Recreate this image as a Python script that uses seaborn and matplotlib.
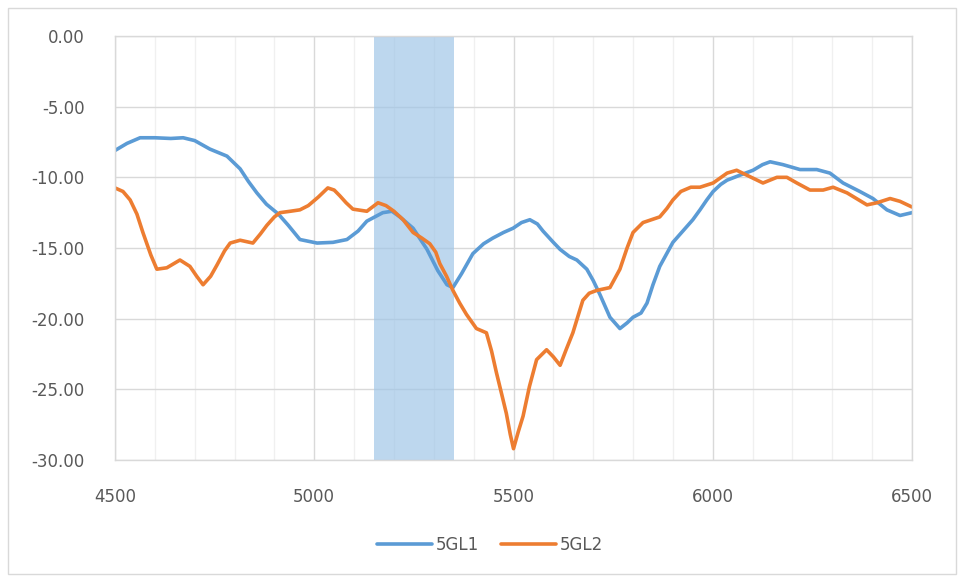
import numpy as np
import pandas as pd
import seaborn as sns
import matplotlib.pyplot as plt
from matplotlib.patches import Rectangle
from matplotlib.lines import Line2D
from matplotlib.ticker import MultipleLocator, FormatStrFormatter

# 5GL1 (blue)
freq1 = [4500, 4530, 4563, 4600, 4640, 4671, 4700, 4738, 4781, 4814, 4835, 4856, 4880, 4910,
         4935, 4964, 5007, 5047, 5082, 5110, 5132, 5172, 5195, 5215, 5248, 5283, 5310, 5333,
         5348, 5370, 5398, 5425, 5448, 5475, 5499, 5520, 5541, 5560, 5574, 5600, 5617, 5640,
         5659, 5684, 5700, 5717, 5742, 5767, 5785, 5800, 5820, 5835, 5850, 5867, 5900, 5925,
         5950, 5968, 5985, 6001, 6020, 6036, 6068, 6101, 6125, 6144, 6176, 6219, 6261, 6294,
         6327, 6369, 6402, 6437, 6470, 6500]
gl1 = [-8.1, -7.6, -7.2, -7.2, -7.25, -7.2, -7.4, -8.0, -8.5, -9.4, -10.3, -11.1, -11.9, -12.6,
       -13.4, -14.4, -14.65, -14.6, -14.4, -13.8, -13.1, -12.5, -12.4, -12.8, -13.6, -15.1, -16.6, -17.6,
       -17.8, -16.8, -15.4, -14.7, -14.3, -13.9, -13.6, -13.2, -13.0, -13.3, -13.8, -14.6, -15.1, -15.6,
       -15.85, -16.5, -17.3, -18.3, -19.9, -20.7, -20.3, -19.9, -19.6, -18.9, -17.6, -16.3, -14.6, -13.8,
       -13.0, -12.3, -11.6, -11.0, -10.5, -10.2, -9.85, -9.5, -9.1, -8.9, -9.1, -9.45, -9.45, -9.7,
       -10.4, -11.0, -11.5, -12.3, -12.7, -12.5]

# 5GL2 (orange)
freq2 = [4500, 4520, 4538, 4555, 4570, 4590, 4605, 4630, 4663, 4688, 4705, 4721, 4740, 4756,
         4775, 4789, 4814, 4846, 4865, 4881, 4900, 4914, 4940, 4964, 4985, 5010, 5034, 5050,
         5064, 5080, 5097, 5132, 5160, 5180, 5200, 5223, 5248, 5270, 5290, 5305, 5315, 5332,
         5348, 5365, 5382, 5407, 5432, 5445, 5457, 5470, 5482, 5492, 5500, 5512, 5524, 5540,
         5558, 5583, 5600, 5617, 5632, 5649, 5662, 5674, 5690, 5709, 5742, 5767, 5785, 5800,
         5825, 5867, 5885, 5900, 5920, 5945, 5968, 6001, 6036, 6060, 6093, 6126, 6161, 6186,
         6211, 6244, 6277, 6302, 6337, 6387, 6412, 6445, 6470, 6500]
gl2 = [-10.75, -11.0, -11.6, -12.6, -13.9, -15.5, -16.5, -16.4, -15.85, -16.3, -17.0, -17.6, -17.0, -16.2,
       -15.2, -14.65, -14.45, -14.65, -14.0, -13.4, -12.8, -12.5, -12.4, -12.3, -12.0, -11.4, -10.75, -10.9,
       -11.3, -11.8, -12.25, -12.4, -11.8, -12.0, -12.4, -13.0, -13.9, -14.3, -14.7, -15.3, -16.1, -17.0,
       -18.0, -18.9, -19.7, -20.7, -21.0, -22.3, -23.8, -25.3, -26.7, -28.2, -29.2, -28.0, -26.9, -24.8,
       -22.9, -22.2, -22.7, -23.3, -22.2, -21.0, -19.8, -18.7, -18.2, -18.0, -17.8, -16.5, -15.0, -13.9,
       -13.2, -12.8, -12.2, -11.6, -11.0, -10.7, -10.7, -10.4, -9.7, -9.5, -9.95, -10.4, -10.0, -10.0,
       -10.4, -10.9, -10.9, -10.7, -11.1, -11.95, -11.8, -11.5, -11.7, -12.1]

band = [5150, 5350]

df = pd.concat([
    pd.DataFrame({'freq': freq1, 'val': gl1, 'series': '5GL1'}),
    pd.DataFrame({'freq': freq2, 'val': gl2, 'series': '5GL2'}),
])

sns.set_style("white")
plt.rcParams['font.family'] = ['DejaVu Sans']

fig = plt.figure(figsize=(9.6, 5.8), dpi=100)
ax = fig.add_axes([115/960, 1-460/580, (912-115)/960, (460-36)/580])

# shaded band, slightly see-through so the grid shows faintly
ax.axvspan(band[0], band[1], color='#a1c6e7', alpha=0.7, zorder=0.8, lw=0)

sns.lineplot(data=df, x='freq', y='val', hue='series', estimator=None,
             palette={'5GL1': '#5b9bd5', '5GL2': '#ed7d31'}, linewidth=2.6, ax=ax, legend=False)

ax.set_xlim(4500, 6500)
ax.set_ylim(-30, 0)
ax.xaxis.set_major_locator(MultipleLocator(500))
ax.xaxis.set_minor_locator(MultipleLocator(100))
ax.yaxis.set_major_locator(MultipleLocator(5))
ax.yaxis.set_major_formatter(FormatStrFormatter('%.2f'))
ax.grid(which='major', color='#d9d9d9', lw=1)
ax.grid(which='minor', axis='x', color='#f0f0f0', lw=1)
ax.set_axisbelow(True)
for s in ax.spines.values():
    s.set_color('#d9d9d9')
    s.set_linewidth(1)
ax.tick_params(which='both', length=0, labelsize=12, labelcolor='#595959')
ax.tick_params(axis='y', pad=22)
ax.tick_params(axis='x', pad=20)
ax.set_xlabel('')
ax.set_ylabel('')

handles = [Line2D([], [], color='#5b9bd5', lw=2.6), Line2D([], [], color='#ed7d31', lw=2.6)]
fig.legend(handles, ['5GL1', '5GL2'], loc='center', bbox_to_anchor=(490/960, 1-545/580), ncol=2,
           frameon=False, handlelength=3.3, handletextpad=0.25, columnspacing=1.3,
           labelcolor='#595959', fontsize=12)

# light frame round the whole chart
fig.patches.append(Rectangle((8/960, 1-574/580), 948/960, 566/580, transform=fig.transFigure,
                             fill=False, edgecolor='#d9d9d9', lw=1))

fig.savefig('out.png', dpi=100)
